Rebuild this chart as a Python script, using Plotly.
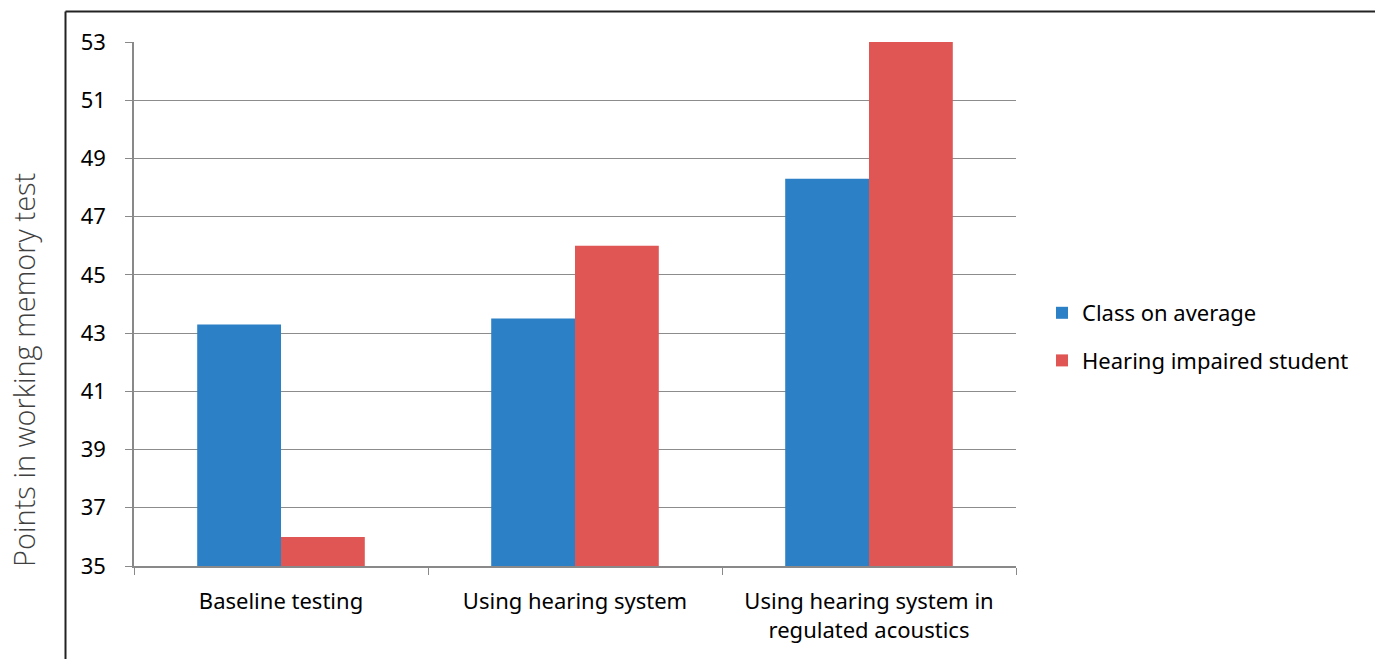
import plotly.graph_objects as go

categories = ["Baseline testing", "Using hearing system", "Using hearing system in<br>regulated acoustics"]
class_avg = [43.3, 43.5, 48.3]
impaired = [36, 46, 53]
series_names = ["Class on average", "Hearing impaired student"]
y_ticks = [35, 37, 39, 41, 43, 45, 47, 49, 51, 53]

W, H = 1375, 659
L, R, T, B = 134, 1016, 42, 566

fig = go.Figure()
fig.add_trace(go.Bar(x=categories, y=[v - 35 for v in class_avg], base=35, name=series_names[0],
                     marker=dict(color="#2B80C6", line=dict(width=0)), legendgroup="a"))
fig.add_trace(go.Bar(x=categories, y=[v - 35 for v in impaired], base=35, name=series_names[1],
                     marker=dict(color="#E05654", line=dict(width=0)), legendgroup="b"))

font_family = "Noto Sans, Open Sans, sans-serif"
FS = 22
fig.update_layout(
    width=W, height=H,
    margin=dict(l=L, r=W - R, t=T, b=H - B),
    paper_bgcolor="white", plot_bgcolor="white",
    barmode="group", bargap=0.43, bargroupgap=0,
    font=dict(family=font_family, size=FS, color="#000000"),
    xaxis=dict(type="category", tickson="boundaries", ticks="outside", ticklen=7,
               tickcolor="#898989", showline=True, linecolor="#898989", linewidth=1.5,
               showgrid=False, tickfont=dict(size=FS), automargin=False,
               ticklabelstandoff=15),
    yaxis=dict(range=[35, 53], tickvals=y_ticks, ticks="outside", ticklen=7,
               tickcolor="#898989", showline=True, linecolor="#898989", linewidth=1.5,
               showgrid=True, gridcolor="#8c8c8c", gridwidth=1.2, zeroline=False,
               tickfont=dict(size=FS), automargin=False, ticklabelstandoff=15),
    legend=dict(x=(1042 - L) / (R - L), y=(B - 337) / (B - T), xanchor="left", yanchor="middle",
                traceorder="grouped", tracegroupgap=16, font=dict(size=FS),
                itemsizing="constant"),
    showlegend=True,
)

fig.add_annotation(text="Points in working memory test", xref="paper", yref="paper",
                   x=(24 - L) / (R - L), y=(B - 370) / (B - T), textangle=-90,
                   showarrow=False, xanchor="center", yanchor="middle",
                   font=dict(size=29, color="#404040", family="Open Sans, sans-serif", weight=300))

# outer frame (left and top edges visible)
x_left = (65.5 - L) / (R - L)
y_top = (B - 11.5) / (B - T)
fig.add_shape(type="line", xref="paper", yref="paper", x0=x_left, x1=x_left, y0=-0.3, y1=y_top,
              line=dict(color="#222222", width=2))
fig.add_shape(type="line", xref="paper", yref="paper", x0=x_left, x1=(W + 10 - L) / (R - L), y0=y_top, y1=y_top,
              line=dict(color="#222222", width=2))

fig.write_html("out.html")
